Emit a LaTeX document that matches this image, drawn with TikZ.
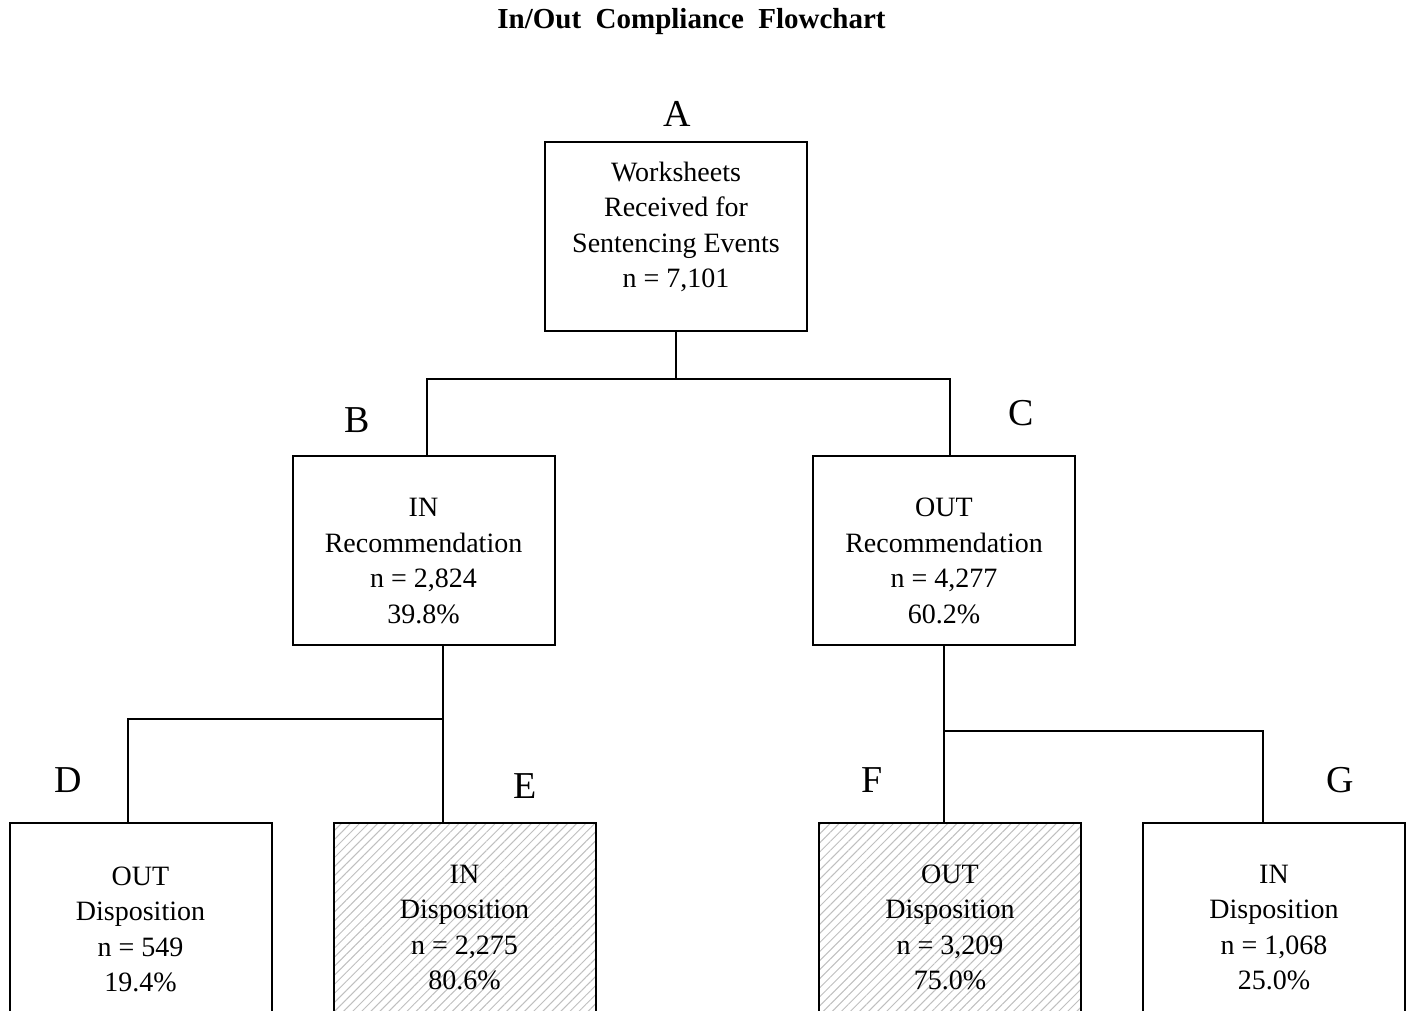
\documentclass[tikz,border=0pt]{standalone}
\usepackage{fontspec}
\setmainfont{Liberation Serif}
\usepackage{tikz}
\usetikzlibrary{patterns.meta, positioning}

\tikzset{
    box/.style={draw, line width=1pt, rectangle,
        minimum width=131pt, minimum height=94.5pt, inner sep=0pt},
    lowbox/.style={box, minimum height=106.5pt},
    hatchbox/.style={lowbox, pattern={Lines[angle=45, distance=3.2pt, line width=0.5pt]}, pattern color=gray!50},
    boxtext/.style={align=center, inner sep=0pt, font=\fontsize{14}{17.75}\selectfont},
    tag/.style={font=\fontsize{19}{22}\selectfont, inner sep=0pt},
    link/.style={line width=1pt}
}

\begin{document}
\begin{tikzpicture}[x=0.5pt, y=-0.5pt]
        \clip (0,0) rectangle (1413,1011);

        % title
        \node[font=\fontsize{14.5}{17}\selectfont\bfseries] (title) at (691.5,22) {In/Out\ \ Compliance\ \ Flowchart};

        % boxes
        \node[box] (A) at (676,236.5) {};
        \node[box] (B) at (423.5,550) {};
        \node[box] (C) at (944,550) {};
        \node[lowbox]   (D) at (140.5,929.5) {};
        \node[hatchbox] (E) at (464.5,929.5) {};
        \node[hatchbox] (F) at (950,929.5) {};
        \node[lowbox]   (G) at (1274,929.5) {};

        % box texts
        \node[boxtext] (A-txt) at ([yshift=4.75pt]A.center) {Worksheets\\Received for\\Sentencing Events\\n = 7,101};
        \node[boxtext] (B-txt) at ([yshift=-5.5pt]B.center) {IN\\Recommendation\\n = 2,824\\39.8\%};
        \node[boxtext] (C-txt) at ([yshift=-5.5pt]C.center) {OUT\\Recommendation\\n = 4,277\\60.2\%};
        \node[boxtext] (D-txt) at (D.center) {OUT\\Disposition\\n = 549\\19.4\%};
        \node[boxtext] (E-txt) at ([yshift=1pt]E.center) {IN\\Disposition\\n = 2,275\\80.6\%};
        \node[boxtext] (F-txt) at ([yshift=1pt]F.center) {OUT\\Disposition\\n = 3,209\\75.0\%};
        \node[boxtext] (G-txt) at ([yshift=1pt]G.center) {IN\\Disposition\\n = 1,068\\25.0\%};

        % letters
        \node[tag] (tA) at (677,114) {A};
        \node[tag] (tB) at (357,420) {B};
        \node[tag] (tC) at (1021,413) {C};
        \node[tag] (tD) at (68,780) {D};
        \node[tag] (tE) at (525,786) {E};
        \node[tag] (tF) at (872,780) {F};
        \node[tag] (tG) at (1340,780) {G};

        % connectors
        \draw[link] (A.south) -- ++(0,47) coordinate (jA);
        \draw[link] (jA) -| ([xshift=1.75pt]B.north);
        \draw[link] (jA) -| ([xshift=3pt]C.north);

        \draw[link] ([xshift=9.75pt]B.south) -- ++(0,73) coordinate (jB) -- ([xshift=-10.75pt]E.north);
        \draw[link] (jB) -| ([xshift=-6.25pt]D.north);

        \draw[link] (C.south) -- ++(0,85) coordinate (jC) -- ([xshift=-3pt]F.north);
        \draw[link] (jC) -| ([xshift=-5.5pt]G.north);
    \end{tikzpicture}
\end{document}
